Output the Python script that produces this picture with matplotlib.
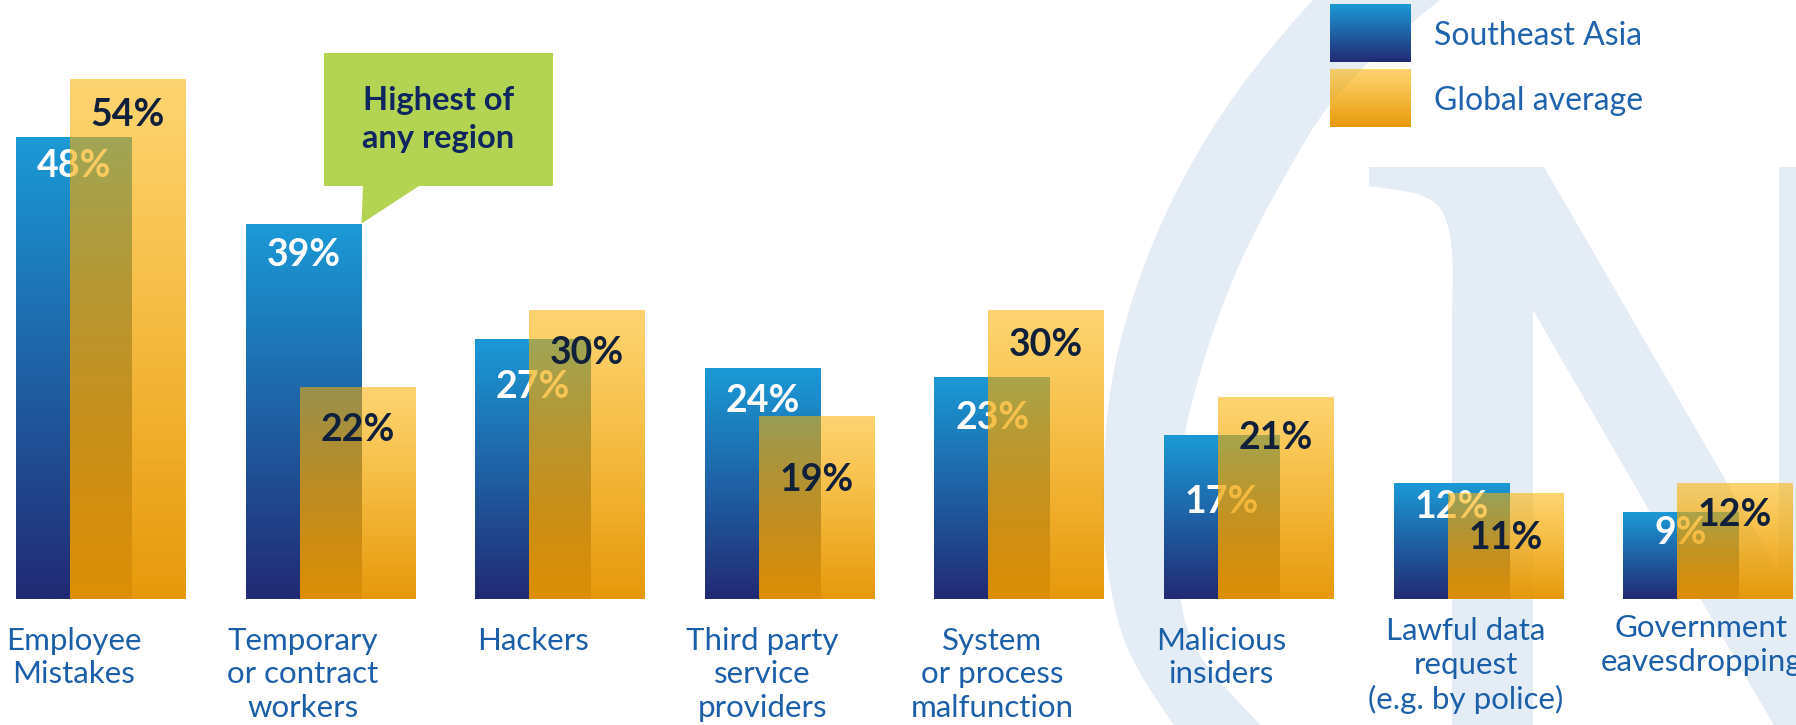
import numpy as np
import matplotlib
matplotlib.use("Agg")
import matplotlib.pyplot as plt
from matplotlib.patches import Polygon

plt.rcParams['font.family'] = ['Lato', 'DejaVu Sans']

# data
categories = ["Employee\nMistakes", "Temporary\nor contract\nworkers", "Hackers",
              "Third party\nservice\nproviders", "System\nor process\nmalfunction",
              "Malicious\ninsiders", "Lawful data\nrequest\n(e.g. by police)",
              "Government\neavesdropping"]
southeast_asia = [48, 39, 27, 24, 23, 17, 12, 9]
global_average = [54, 22, 30, 19, 30, 21, 11, 12]
series_names = ["Southeast Asia", "Global average"]
callout_text = "Highest of\nany region"

# how far each value label sits below its bar top (in % points)
sea_drop = [2.7, 3.0, 4.7, 3.1, 3.9, 6.6, 2.2, 1.9]
glob_drop = [3.4, 4.2, 4.1, 6.3, 3.3, 4.0, 4.4, 3.0]

W, H = 1796, 725
fig, ax = plt.subplots(figsize=(W / 100, H / 100), dpi=100)
fig.patch.set_facecolor("white")
ax.set_position([0, 0, 1, 1])
ax.axis("off")

# pixel -> data helpers (layout only)
PX_GROUP, X0 = 229.6, 16
PX_PCT, BASE = 9.62, 598.7
def px2x(px): return (px - X0) / PX_GROUP
def px2y(py): return (BASE - py) / PX_PCT

XLIM = (px2x(0), px2x(W))
YLIM = (px2y(H), px2y(0))

# background watermark (light blue ring and N), in figure pixels
WM = "#e4ecf5"
def fig_pts(pts):
    pts = np.asarray(pts, float)
    return np.column_stack([pts[:, 0] / W, 1 - pts[:, 1] / H])

def smooth(pts, n=20):
    pts = np.asarray(pts, float)
    p = np.vstack([pts[0], pts, pts[-1]])
    out = []
    t = np.linspace(0, 1, n, endpoint=False)[:, None]
    for i in range(1, len(p) - 2):
        p0, p1, p2, p3 = p[i - 1], p[i], p[i + 1], p[i + 2]
        out.append(0.5 * (2 * p1 + (-p0 + p2) * t + (2 * p0 - 5 * p1 + 4 * p2 - p3) * t ** 2
                          + (-p0 + 3 * p1 - 3 * p2 + p3) * t ** 3))
    out.append(p[-2][None])
    return np.vstack(out)

outer = smooth([(1335, -10), (1313, 0), (1237, 92), (1180, 185), (1140, 277), (1114, 370),
                (1104, 462), (1106, 555), (1127, 647), (1180, 735)])
inner = smooth([(1470, -10), (1440, 0), (1340, 92), (1280, 185), (1234, 277), (1201, 370),
                (1180, 462), (1177, 555), (1195, 647), (1270, 735)])
ring = np.vstack([outer, inner[::-1]])
ax.add_patch(Polygon(fig_pts(ring), closed=True, facecolor=WM, edgecolor="none",
                     transform=fig.transFigure, zorder=0))

serif = smooth([(1369, 186), (1420, 195), (1443, 213), (1452, 253), (1452, 320)], n=12)
n_left = np.vstack([[(1369, 167), (1544, 167), (1544 + 0.58 * 570, 737),
                     (1533 + 0.58 * 427, 737), (1533, 310), (1533, 737), (1452, 737)],
                    serif[::-1]])
ax.add_patch(Polygon(fig_pts(n_left), closed=True, facecolor=WM, edgecolor="none",
                     transform=fig.transFigure, zorder=0))
ax.add_patch(Polygon(fig_pts([(1779, 167), (1800, 167), (1800, 737), (1779, 737)]),
                     closed=True, facecolor=WM, edgecolor="none",
                     transform=fig.transFigure, zorder=0))

# gradients
def grad(top, bottom, n=256):
    t = np.linspace(0, 1, n)[:, None]
    arr = np.array(top) * (1 - t) + np.array(bottom) * t
    return arr.reshape(n, 1, 4)

blue_grad = grad((27/255, 154/255, 214/255, 1.0), (34/255, 42/255, 116/255, 1.0))
gold_grad = grad((252/255, 178/255, 0.0, 0.56), (230/255, 148/255, 0.0, 0.96))

x = np.arange(len(categories))
bw, off = 0.505, 0.235

sea_bars = ax.bar(x, southeast_asia, width=bw, align="edge", color="none", lw=0)
glob_bars = ax.bar(x + off, global_average, width=bw, align="edge", color="none", lw=0)

for b in sea_bars:
    im = ax.imshow(blue_grad, extent=[b.get_x(), b.get_x() + b.get_width(), 0, b.get_height()],
                   aspect="auto", interpolation="bilinear", zorder=2)
    im.set_clip_path(b)
for b, v, d in zip(sea_bars, southeast_asia, sea_drop):
    ax.text(b.get_x() + b.get_width() / 2, v - d, f"{v}%", ha="center", va="center_baseline",
            fontsize=27, fontweight="bold", color="white", zorder=3)

for b in glob_bars:
    im = ax.imshow(gold_grad, extent=[b.get_x(), b.get_x() + b.get_width(), 0, b.get_height()],
                   aspect="auto", interpolation="bilinear", zorder=4)
    im.set_clip_path(b)
for b, v, d in zip(glob_bars, global_average, glob_drop):
    ax.text(b.get_x() + b.get_width() / 2, v - d, f"{v}%", ha="center", va="center_baseline",
            fontsize=27, fontweight="bold", color="#10203a", zorder=5)

# category labels
label_dx = [0.25, 0.25, 0.25, 0.25, 0.25, 0.25, 0.315, 0.34]
label_y = [-2.9, -2.9, -2.9, -2.9, -2.9, -2.9, -1.95, -1.6]
for i, lab in enumerate(categories):
    ax.text(i + label_dx[i], label_y[i], lab, ha="center", va="top", fontsize=22.5,
            color="#1b5fa9", linespacing=1.25, zorder=5)

# callout bubble pointing at the Southeast Asia bar of "Temporary or contract workers"
tb = sea_bars[1]
tip = (tb.get_x() + tb.get_width(), tb.get_height())
bx0, bx1, by0, by1 = px2x(324), px2x(553), px2y(186), px2y(53)
bubble = [(bx0, by1), (bx1, by1), (bx1, by0), (px2x(419), by0), tip, (px2x(363), by0), (bx0, by0)]
ax.add_patch(Polygon(bubble, closed=True, facecolor="#b3d353", edgecolor="none", zorder=6))
ax.text((bx0 + bx1) / 2, (by0 + by1) / 2, callout_text, ha="center", va="center",
        fontsize=23.5, fontweight="bold", color="#0f275e", linespacing=1.35, zorder=7)

# legend
leg_grads = [blue_grad, gold_grad]
leg_rows = [(4, 62), (69, 127)]
for g, (t, bt), name in zip(leg_grads, leg_rows, series_names):
    ax.imshow(g, extent=[px2x(1330), px2x(1411), px2y(bt), px2y(t)], aspect="auto",
              interpolation="bilinear", zorder=6)
    ax.text(px2x(1434), px2y((t + bt) / 2), name, ha="left", va="center_baseline",
            fontsize=23, color="#1f63ad", zorder=6)

ax.set_xlim(*XLIM)
ax.set_ylim(*YLIM)
ax.set_aspect("auto")

fig.savefig("out.png", dpi=100, facecolor="white")
